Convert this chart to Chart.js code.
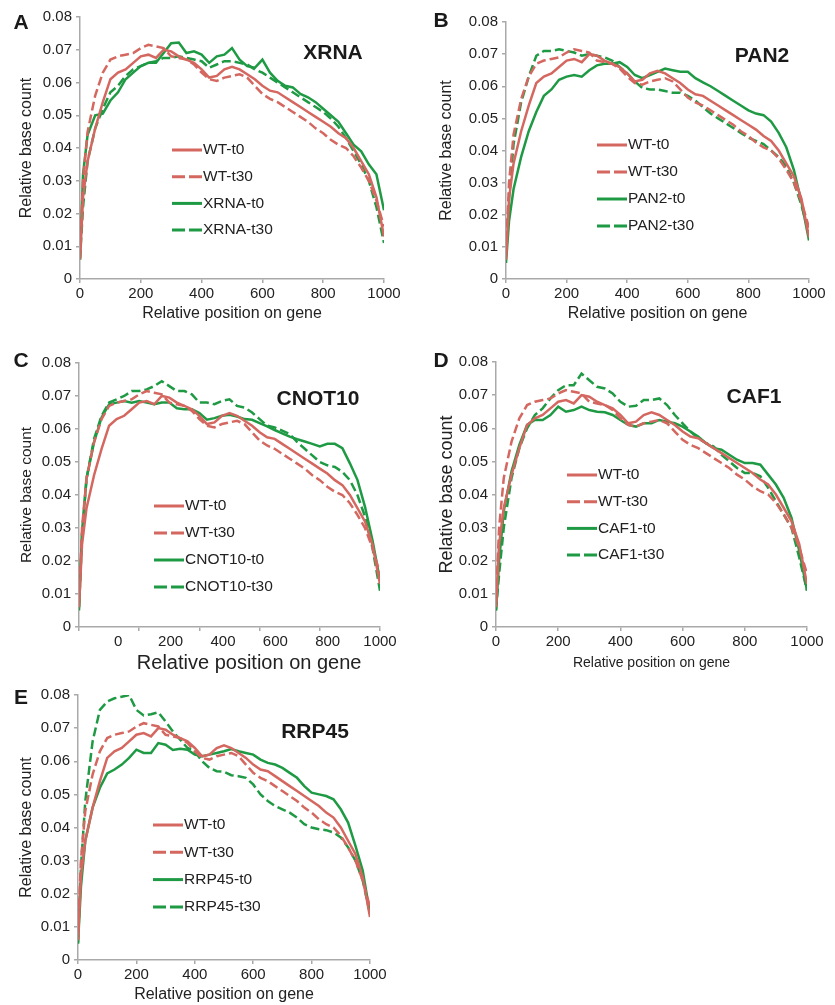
<!DOCTYPE html>
<html>
<head>
<meta charset="utf-8">
<script src="https://cdn.jsdelivr.net/npm/chart.js@4/dist/chart.umd.min.js"></script>
<style>
  body { margin: 0; background: #fff; }
  #page { position: relative; width: 835px; height: 1005px; font-family: "Liberation Sans", Arial, sans-serif; }
  canvas { position: absolute; }
  .tag { position: absolute; font-weight: bold; color: #1a1a1a; transform: translate(-50%, -50%); white-space: nowrap; }
  .letter { font-size: 21px; }
  .gene { font-size: 21px; }
</style>
</head>
<body>
<div id="page">
  <canvas id="chartA" width="410" height="323" style="left:0;top:0"></canvas>
  <canvas id="chartB" width="415" height="323" style="left:420px;top:0"></canvas>
  <canvas id="chartC" width="406" height="345" style="left:0;top:330px"></canvas>
  <canvas id="chartD" width="413" height="342" style="left:420px;top:330px"></canvas>
  <canvas id="chartE" width="396" height="339" style="left:0;top:665px"></canvas>

  <div class="tag letter" style="left:21px;top:22px">A</div>
  <div class="tag letter" style="left:441px;top:20px">B</div>
  <div class="tag letter" style="left:21px;top:360px">C</div>
  <div class="tag letter" style="left:441px;top:360px">D</div>
  <div class="tag letter" style="left:21px;top:697px">E</div>

  <div class="tag gene" style="left:333px;top:52px">XRNA</div>
  <div class="tag gene" style="left:762px;top:55px">PAN2</div>
  <div class="tag gene" style="left:318px;top:398px">CNOT10</div>
  <div class="tag gene" style="left:754px;top:396px">CAF1</div>
  <div class="tag gene" style="left:315px;top:731px">RRP45</div>
</div>

<script>
// relative position along the gene (shared by every profile)
const positions = [0, 10, 25, 50, 75, 100, 125, 150, 175, 200, 225, 250, 275, 300, 325, 350, 375, 400,
  425, 450, 475, 500, 525, 550, 575, 600, 625, 650, 675, 700, 725, 750, 775, 800, 825, 850, 875, 900,
  925, 950, 975, 1000];

// wild type controls
const wtT0 = [0.006, 0.025, 0.036, 0.046, 0.054, 0.061, 0.063, 0.064, 0.066, 0.068, 0.0685, 0.0675, 0.070, 0.0695,
  0.068, 0.067, 0.066, 0.064, 0.0615, 0.062, 0.064, 0.0648, 0.064, 0.0625, 0.061, 0.059, 0.0575, 0.057, 0.0555,
  0.054, 0.0525, 0.051, 0.0495, 0.048, 0.0465, 0.0445, 0.043, 0.040, 0.036, 0.032, 0.025, 0.013];
const wtT30 = [0.008, 0.030, 0.045, 0.056, 0.063, 0.067, 0.068, 0.0685, 0.069, 0.0705, 0.0715, 0.071, 0.0705, 0.068,
  0.0675, 0.067, 0.0655, 0.063, 0.061, 0.0605, 0.0615, 0.062, 0.0625, 0.0615, 0.059, 0.0565, 0.055, 0.054, 0.0525,
  0.051, 0.0495, 0.048, 0.046, 0.0445, 0.0425, 0.041, 0.040, 0.0375, 0.034, 0.030, 0.024, 0.016];

// mutants
const xrnaT0 = [0.006, 0.032, 0.044, 0.050, 0.0505, 0.0545, 0.057, 0.061, 0.063, 0.065, 0.066, 0.066, 0.069, 0.072,
  0.0722, 0.069, 0.0695, 0.0685, 0.066, 0.068, 0.0685, 0.0705, 0.067, 0.065, 0.0645, 0.067, 0.063, 0.0605, 0.059,
  0.0585, 0.0565, 0.0555, 0.054, 0.052, 0.050, 0.048, 0.0445, 0.041, 0.039, 0.035, 0.032, 0.021];
const xrnaT30 = [0.006, 0.022, 0.036, 0.046, 0.052, 0.057, 0.059, 0.062, 0.064, 0.065, 0.066, 0.0665, 0.0675, 0.0675,
  0.068, 0.0675, 0.067, 0.0665, 0.0645, 0.0655, 0.0665, 0.0665, 0.066, 0.0655, 0.064, 0.063, 0.0615, 0.060, 0.0585,
  0.057, 0.0555, 0.054, 0.0525, 0.051, 0.049, 0.0465, 0.043, 0.039, 0.035, 0.030, 0.022, 0.011];

const pan2T0 = [0.005, 0.018, 0.028, 0.038, 0.046, 0.052, 0.057, 0.059, 0.062, 0.063, 0.0635, 0.063, 0.065, 0.0665,
  0.067, 0.067, 0.0675, 0.066, 0.0635, 0.0625, 0.0635, 0.0645, 0.0655, 0.065, 0.0645, 0.0645, 0.0625, 0.0612, 0.060,
  0.0585, 0.057, 0.0555, 0.054, 0.0525, 0.0515, 0.051, 0.049, 0.0455, 0.041, 0.034, 0.024, 0.012];
const pan2T30 = [0.008, 0.025, 0.042, 0.055, 0.063, 0.0695, 0.071, 0.071, 0.0715, 0.071, 0.0705, 0.0695, 0.070, 0.0695,
  0.069, 0.068, 0.066, 0.064, 0.0615, 0.0595, 0.059, 0.059, 0.0585, 0.058, 0.058, 0.057, 0.0555, 0.0535, 0.0515,
  0.050, 0.0485, 0.047, 0.0455, 0.044, 0.043, 0.042, 0.040, 0.038, 0.035, 0.030, 0.023, 0.014];

const cnot10T0 = [0.005, 0.028, 0.045, 0.056, 0.0635, 0.0675, 0.068, 0.0685, 0.068, 0.0685, 0.068, 0.0675, 0.068, 0.068,
  0.0663, 0.066, 0.066, 0.0648, 0.0628, 0.0633, 0.064, 0.0643, 0.0638, 0.063, 0.0628, 0.0618, 0.0608, 0.0597, 0.0587,
  0.0577, 0.0569, 0.0562, 0.0555, 0.0547, 0.0555, 0.0555, 0.0542, 0.0496, 0.0446, 0.0365, 0.0263, 0.0142];
const cnot10T30 = [0.006, 0.028, 0.045, 0.057, 0.064, 0.068, 0.069, 0.070, 0.0715, 0.0715, 0.072, 0.073, 0.0745, 0.073,
  0.0715, 0.0715, 0.0705, 0.068, 0.068, 0.0675, 0.0685, 0.069, 0.067, 0.0665, 0.065, 0.063, 0.061, 0.0605, 0.0595,
  0.0585, 0.056, 0.054, 0.052, 0.050, 0.049, 0.0485, 0.047, 0.0445, 0.040, 0.0335, 0.024, 0.011];

const caf1T0 = [0.005, 0.020, 0.035, 0.047, 0.055, 0.061, 0.0625, 0.0625, 0.064, 0.0665, 0.065, 0.0655, 0.0665, 0.0655,
  0.065, 0.0648, 0.064, 0.0625, 0.061, 0.0605, 0.0615, 0.0615, 0.0625, 0.062, 0.0615, 0.0605, 0.059, 0.0575, 0.0555,
  0.054, 0.0535, 0.052, 0.0505, 0.0495, 0.0495, 0.049, 0.046, 0.043, 0.039, 0.033, 0.023, 0.011];
const caf1T30 = [0.005, 0.016, 0.030, 0.045, 0.054, 0.060, 0.064, 0.066, 0.069, 0.0715, 0.073, 0.073, 0.0765, 0.0745,
  0.0725, 0.072, 0.0705, 0.068, 0.0665, 0.0668, 0.0685, 0.0685, 0.069, 0.067, 0.064, 0.0615, 0.059, 0.057, 0.0555,
  0.0545, 0.052, 0.050, 0.048, 0.0465, 0.0465, 0.0455, 0.042, 0.038, 0.034, 0.030, 0.021, 0.011];

const rrp45T0 = [0.005, 0.022, 0.036, 0.046, 0.052, 0.0563, 0.0575, 0.059, 0.061, 0.0635, 0.0625, 0.0625, 0.0655, 0.065,
  0.0634, 0.0638, 0.0635, 0.062, 0.0615, 0.062, 0.0625, 0.063, 0.0637, 0.063, 0.0625, 0.062, 0.0605, 0.0595, 0.059,
  0.058, 0.0565, 0.055, 0.0525, 0.0505, 0.050, 0.0495, 0.0485, 0.0455, 0.0415, 0.0345, 0.027, 0.014];
const rrp45T30 = [0.005, 0.028, 0.048, 0.066, 0.0755, 0.078, 0.079, 0.0795, 0.080, 0.0755, 0.0738, 0.0742, 0.0748, 0.072,
  0.069, 0.0665, 0.064, 0.063, 0.060, 0.058, 0.057, 0.0568, 0.0558, 0.0555, 0.055, 0.053, 0.050, 0.048, 0.0465,
  0.0455, 0.0445, 0.043, 0.041, 0.040, 0.0395, 0.0392, 0.0385, 0.037, 0.034, 0.030, 0.024, 0.014];

const xTicks = [0, 200, 400, 600, 800, 1000];

const RED = '#d4675f';
const GREEN = '#1f9a44';
const AXIS = '#a9a9a9';
const TEXT = '#222';
const FONT = '"Liberation Sans", Arial, sans-serif';
const X_TITLE = 'Relative position on gene';

Chart.defaults.font.family = FONT;
Chart.defaults.color = TEXT;

// legend drawn inside the plot area, offsets are from the chart area corner
const inlineLegend = {
  id: 'inlineLegend',
  afterDatasetsDraw(chart, args, opts) {
    const { ctx, chartArea } = chart;
    ctx.save();
    chart.data.datasets.forEach((ds, i) => {
      const x = chartArea.left + opts.x;
      const y = chartArea.top + opts.y + i * opts.gap;
      ctx.beginPath();
      ctx.setLineDash(ds.borderDash.length ? [13, 4] : []);
      ctx.strokeStyle = ds.borderColor;
      ctx.lineWidth = 3;
      ctx.moveTo(x, y);
      ctx.lineTo(x + 30, y);
      ctx.stroke();
      ctx.setLineDash([]);
      ctx.fillStyle = TEXT;
      ctx.font = '15.5px ' + FONT;
      ctx.textBaseline = 'middle';
      ctx.textAlign = 'left';
      ctx.fillText(ds.label, x + 31, y);
    });
    ctx.restore();
  }
};

// axis title centred under the labelled span of the x2 scale (CNOT10 panel)
const labelSpanTitle = {
  id: 'labelSpanTitle',
  afterDraw(chart, args, opts) {
    const s = chart.scales.x2;
    if (!s) return;
    const { ctx } = chart;
    ctx.save();
    ctx.fillStyle = TEXT;
    ctx.font = opts.size + 'px ' + FONT;
    ctx.textAlign = 'center';
    ctx.textBaseline = 'middle';
    const cx = (s.getPixelForValue(xTicks[0]) + s.getPixelForValue(xTicks[xTicks.length - 1])) / 2;
    ctx.fillText(X_TITLE, cx, s.bottom - opts.size * 0.6);
    ctx.restore();
  }
};

function series(label, values, color, dashed) {
  return {
    label: label,
    data: positions.map((p, i) => ({ x: p, y: values[i] })),
    borderColor: color,
    borderDash: dashed ? [9, 4] : [],
    borderWidth: 2.5,
    pointRadius: 0,
    tension: 0,
    fill: false
  };
}

function makePanel(id, mutant, t0, t30, g) {
  const tickGrid = { display: true, drawOnChartArea: false, tickLength: 4, color: AXIS, lineWidth: 1.5 };
  const xTitle = {
    display: true, text: X_TITLE,
    font: { size: g.xTitleSize }, padding: { top: 0, bottom: g.xTitlePad }
  };
  const xLabels = { font: { size: 15 }, padding: 2, maxRotation: 0, callback: v => String(v) };
  const scales = {
    x: {
      type: 'linear', min: 0, max: 1000,
      afterBuildTicks: s => { s.ticks = xTicks.map(v => ({ value: v })); },
      afterFit: s => { s.height = g.xHeight; },
      ticks: xLabels,
      grid: tickGrid,
      border: { color: AXIS, width: 1.5 },
      title: xTitle
    },
    y: {
      min: 0, max: 0.08,
      afterFit: s => { s.width = g.yWidth; },
      ticks: {
        stepSize: 0.01, font: { size: 15 }, padding: 4,
        callback: v => (Math.abs(v) < 1e-9 ? '0' : v.toFixed(2))
      },
      grid: tickGrid,
      border: { color: AXIS, width: 1.5 },
      title: {
        display: true, text: 'Relative base count',
        font: { size: g.yTitleSize }, padding: { top: g.yTitlePad, bottom: 0 }
      }
    }
  };
  if (g.shiftedLabels) {
    // CNOT10 panel: tick labels sit on their own scale, offset from the tick marks
    scales.x.afterFit = s => { s.height = 6; };
    scales.x.ticks = { display: false };
    scales.x.title = { display: false };
    scales.x2 = {
      type: 'linear', position: 'bottom', min: -150, max: 1000,
      afterBuildTicks: s => { s.ticks = xTicks.map(v => ({ value: v })); },
      afterFit: s => { s.height = g.xHeight - 6; },
      ticks: Object.assign({}, xLabels, { padding: 0 }),
      grid: { display: false, drawTicks: false },
      border: { display: false },
      title: { display: false }
    };
  }
  return new Chart(document.getElementById(id).getContext('2d'), {
    type: 'line',
    data: {
      datasets: [
        series('WT-t0', wtT0, RED, false),
        series('WT-t30', wtT30, RED, true),
        series(mutant + '-t0', t0, GREEN, false),
        series(mutant + '-t30', t30, GREEN, true)
      ]
    },
    options: {
      responsive: false,
      animation: false,
      layout: { padding: { left: 0, top: g.padTop, right: 26, bottom: 0 } },
      plugins: {
        legend: { display: false },
        tooltip: { enabled: false },
        inlineLegend: g.legend,
        labelSpanTitle: { size: g.xTitleSize }
      },
      scales: scales
    },
    plugins: [inlineLegend, labelSpanTitle]
  });
}

makePanel('chartA', 'XRNA', xrnaT0, xrnaT30, {
  yWidth: 80, padTop: 17, xHeight: 44, xTitleSize: 16, xTitlePad: 0, yTitleSize: 16, yTitlePad: 17,
  legend: { x: 92, y: 133, gap: 26.7 }
});
makePanel('chartB', 'PAN2', pan2T0, pan2T30, {
  yWidth: 86, padTop: 22, xHeight: 44, xTitleSize: 16, xTitlePad: 0, yTitleSize: 16, yTitlePad: 17,
  legend: { x: 91, y: 123, gap: 27 }
});
makePanel('chartC', 'CNOT10', cnot10T0, cnot10T30, {
  yWidth: 79, padTop: 33, xHeight: 48, xTitleSize: 20, xTitlePad: 0, yTitleSize: 15.5, yTitlePad: 17,
  shiftedLabels: true,
  legend: { x: 75, y: 143, gap: 27 }
});
makePanel('chartD', 'CAF1', caf1T0, caf1T30, {
  yWidth: 76, padTop: 32, xHeight: 45, xTitleSize: 14, xTitlePad: 0, yTitleSize: 18, yTitlePad: 16,
  legend: { x: 71, y: 113, gap: 26.7 }
});
makePanel('chartE', 'RRP45', rrp45T0, rrp45T30, {
  yWidth: 78, padTop: 30, xHeight: 44, xTitleSize: 16, xTitlePad: 0, yTitleSize: 16, yTitlePad: 17,
  legend: { x: 75, y: 130, gap: 27.3 }
});
</script>
</body>
</html>
